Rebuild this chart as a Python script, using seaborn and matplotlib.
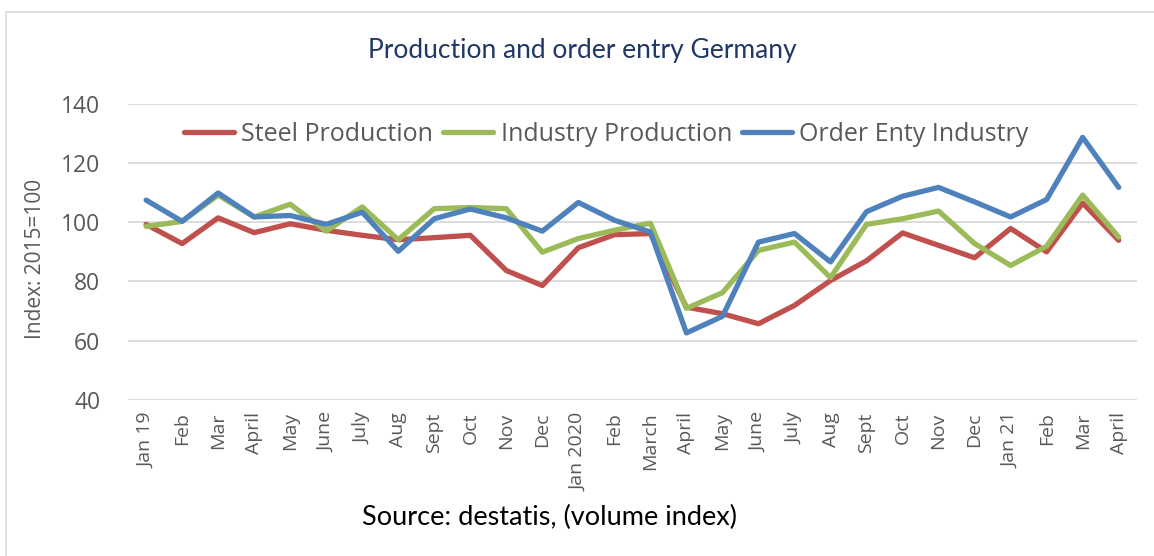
import pandas as pd
import matplotlib.pyplot as plt
import seaborn as sns
from matplotlib.patches import Rectangle

# data
months = ["Jan 19", "Feb", "Mar", "April", "May", "June", "July", "Aug", "Sept", "Oct",
          "Nov", "Dec", "Jan 2020", "Feb", "March", "April", "May", "June", "July", "Aug",
          "Sept", "Oct", "Nov", "Dec", "Jan 21", "Feb", "Mar", "April"]
steel = [99.3, 92.8, 101.5, 96.5, 99.5, 97.3, 95.6, 94.1, 94.8, 95.6,
         83.7, 78.6, 91.4, 95.8, 96.2, 71.3, 69.1, 65.7, 71.9, 80.3,
         87.0, 96.4, 92.2, 88.0, 97.9, 90.0, 106.5, 93.9]
industry = [98.6, 100.3, 109.2, 101.8, 106.1, 97.0, 105.2, 94.1, 104.6, 105.0,
            104.6, 89.9, 94.5, 97.3, 99.7, 70.9, 76.2, 90.5, 93.3, 81.3,
            99.3, 101.2, 103.8, 92.8, 85.4, 91.9, 109.2, 95.0]
orders = [107.5, 100.3, 109.9, 101.8, 102.3, 99.3, 103.4, 90.2, 101.2, 104.5,
          101.5, 97.0, 106.7, 100.7, 96.7, 62.6, 68.2, 93.3, 96.2, 86.6,
          103.6, 108.8, 111.8, 106.9, 101.8, 107.7, 128.7, 111.8]
series_names = ["Steel Production", "Industry Production", "Order Enty Industry"]
colors = ["#C0504D", "#9BBB59", "#4F81BD"]

rows = []
for name, vals in zip(series_names, [steel, industry, orders]):
    for i, v in enumerate(vals):
        rows.append({"idx": i, "value": v, "series": name})
df = pd.DataFrame(rows)

sns.set_theme(style="white")
plt.rcParams["font.family"] = ["Open Sans", "DejaVu Sans"]

fig = plt.figure(figsize=(11.54, 5.56), dpi=100)
ax = fig.add_axes([0.111, 0.281, 0.874, 0.532])

sns.lineplot(data=df, x="idx", y="value", hue="series", hue_order=series_names,
             palette=colors, linewidth=3.8, ax=ax, sort=False)

ax.set_ylim(40, 140)
ax.set_yticks(range(40, 141, 20))
ax.set_xlim(-0.5, len(months) - 0.5)
ax.set_xticks(range(len(months)))
ax.set_xticklabels(months, rotation=90, ha="center", va="top", fontsize=14,
                   color="#595959")
ax.tick_params(axis="y", labelsize=16.5, labelcolor="#595959", pad=20, length=0)
ax.tick_params(axis="x", pad=9, length=0)
ax.grid(axis="y", color="#D9D9D9", linewidth=1.3)
for s in ax.spines.values():
    s.set_visible(False)
ax.set_xlabel("")
ax.set_ylabel("")

leg = ax.legend(loc="upper center", bbox_to_anchor=(0.474, 1.015), ncol=3, frameon=False,
                fontsize=18, handlelength=2.0, columnspacing=0.4, handletextpad=0.3)
for t in leg.get_texts():
    t.set_color("#595959")
for h in leg.get_lines():
    h.set_linewidth(3.8)

fig.text(0.505, 0.91, "Production and order entry Germany", ha="center", va="center",
         fontsize=19, color="#1F3864", family="Lato")
fig.text(0.031, 0.535, "Index: 2015=100", rotation=90, ha="center", va="center",
         fontsize=15, color="#595959")
fig.text(0.476, 0.07, "Source: destatis, (volume index)", ha="center", va="center",
         fontsize=19.5, color="black", family="Lato")

fig.patches.append(Rectangle((0.005, -0.05), 1.2, 1.0 - 12 / 556 + 0.05,
                             transform=fig.transFigure, fill=False,
                             edgecolor="#D9D9D9", linewidth=1.2))

fig.savefig("out.png", dpi=100)
